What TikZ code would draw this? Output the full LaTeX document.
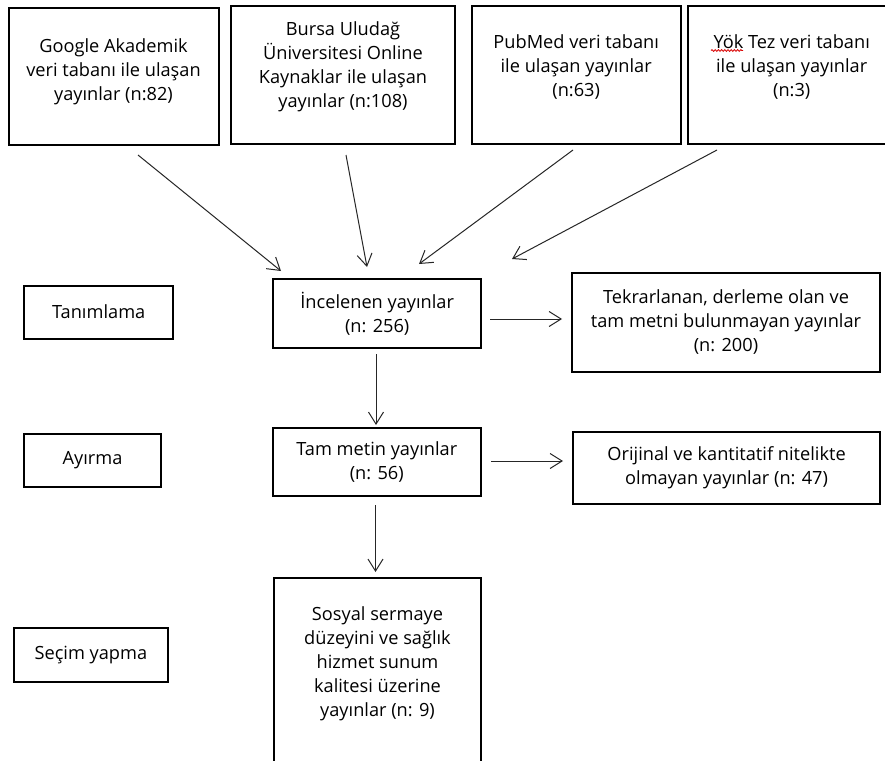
\documentclass[tikz,border=0pt]{standalone}
\usepackage{fontspec}
\setmainfont{Open Sans}
\usetikzlibrary{arrows.meta,decorations.pathmorphing}
\newcommand{\toptxt}[4]{\parbox[c][#2pt][t]{#1pt}{\centering\vspace*{#3pt}#4\par}}
\newcommand{\midtxt}[3]{\parbox[c][#2pt][c]{#1pt}{\centering #3\par}}
\tikzset{
  box/.style={draw=black, line width=2pt, inner sep=0pt, outer sep=0pt,
    font=\fontsize{18.2}{24}\selectfont, text=black},
  flow/.style={draw=black!85, line width=1pt,
    -{Straight Barb[length=12pt,width=15pt,line width=1pt]}},
  spell/.style={draw=red!85!black, line width=0.8pt, decorate,
    decoration={snake, amplitude=0.9pt, segment length=3.2pt}}
}
\begin{document}
\begin{tikzpicture}[x=1pt,y=-1pt]
\useasboundingbox[fill=white] (0,0) rectangle (885,760);
% top source boxes
\node[box] (google) at (113.5,76.5) {\toptxt{210}{137}{31}{Google Akademik\\veri tabanı ile ulaşan\\yayınlar (n:82)}};
\node[box] (bursa) at (343,75) {\toptxt{224}{137}{15.5}{Bursa Uludağ\\Üniversitesi Online\\Kaynaklar ile ulaşan\\yayınlar (n:108)}};
\node[box] (pubmed) at (576.2,74.9) {\toptxt{209}{138}{28.5}{PubMed veri tabanı\\ile ulaşan yayınlar\\(n:63)}};
\node[box] (yok) at (791.7,74.9) {\toptxt{208}{138}{28.5}{Yök Tez veri tabanı\\ile ulaşan yayınlar\\(n:3)}};
\draw[spell] (711,50.5) -- (743,50.5);
% stage labels
\node[box] (tanim) at (98.7,312) {\midtxt{149}{53}{Tanımlama}};
\node[box] (ayir) at (92.5,460.5) {\midtxt{136.5}{52.5}{Ayırma}};
\node[box] (secim) at (90.9,655) {\midtxt{153.5}{53.5}{Seçim yapma}};
% main flow
\node[box] (incel) at (377.2,313.8) {\midtxt{208}{69}{İncelenen yayınlar\\(n: 256)}};
\node[box] (tekrar) at (726,322.2) {\midtxt{308}{99}{Tekrarlanan, derleme olan ve\\tam metni bulunmayan yayınlar\\(n: 200)}};
\node[box] (tam) at (376.8,462.2) {\midtxt{207.5}{68}{Tam metin yayınlar\\(n: 56)}};
\node[box] (orij) at (726.6,468) {\midtxt{307.6}{72.6}{Orijinal ve kantitatif nitelikte\\olmayan yayınlar (n: 47)}};
\node[box] (sosyal) at (377.5,693.3) {\toptxt{207.7}{230}{28}{Sosyal sermaye\\düzeyini ve sağlık\\hizmet sunum\\kalitesi üzerine\\yayınlar (n: 9)}};
% connector end points
\coordinate (a1s) at (138,155);  \coordinate (a1e) at (281,271);
\coordinate (a2s) at (346,155);  \coordinate (a2e) at (367,267);
\coordinate (a3s) at (573,150);  \coordinate (a3e) at (419,264);
\coordinate (a4s) at (717,150);  \coordinate (a4e) at (512,259);
\coordinate (h1s) at (490,319);  \coordinate (h1e) at (562,319);
\coordinate (v1s) at (376,354);  \coordinate (v1e) at (376,425);
\coordinate (h2s) at (491,461);  \coordinate (h2e) at (563,461);
\coordinate (v2s) at (375.5,505); \coordinate (v2e) at (375.5,572);
\draw[flow] (a1s) -- (a1e);
\draw[flow] (a2s) -- (a2e);
\draw[flow] (a3s) -- (a3e);
\draw[flow] (a4s) -- (a4e);
\draw[flow] (h1s) -- (h1e);
\draw[flow] (v1s) -- (v1e);
\draw[flow] (h2s) -- (h2e);
\draw[flow] (v2s) -- (v2e);
\end{tikzpicture}
\end{document}
